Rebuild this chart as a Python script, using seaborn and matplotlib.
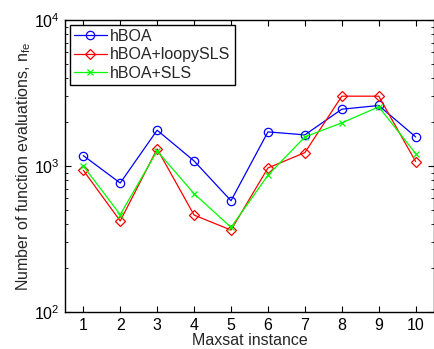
import matplotlib
matplotlib.use("Agg")
import matplotlib.pyplot as plt
import seaborn as sns
import pandas as pd
import numpy as np
from matplotlib.ticker import LogLocator, NullFormatter

instances = [1, 2, 3, 4, 5, 6, 7, 8, 9, 10]
hboa = [1178, 764, 1757, 1082, 578, 1711, 1632, 2446, 2594, 1581]
hboa_loopy = [934, 420, 1309, 461, 364, 969, 1234, 3004, 3004, 1071]
hboa_sls = [1000, 464, 1267, 646, 380, 863, 1581, 1972, 2539, 1215]
series_names = ["hBOA", "hBOA+loopySLS", "hBOA+SLS"]

sns.set_style("white")
plt.rcParams['font.family'] = ['Liberation Sans', 'DejaVu Sans']
plt.rcParams['mathtext.fontset'] = 'custom'
plt.rcParams['mathtext.rm'] = 'Liberation Sans'
plt.rcParams['mathtext.it'] = 'Liberation Sans'

fig = plt.figure(figsize=(4.35, 3.49), dpi=100)
ax = fig.add_axes([0.149, 0.106, 0.849, 0.837])

styles = [("blue", "o", 6), ("red", "D", 5), ("#00ff00", "x", 4)]
for name, vals, (c, m, ms) in zip(series_names, [hboa, hboa_loopy, hboa_sls], styles):
    df = pd.DataFrame({"x": instances, "y": vals})
    sns.lineplot(data=df, x="x", y="y", ax=ax, color=c, marker=m, markersize=ms,
                 mfc="none", mec=c, mew=0.9, lw=0.9, label=name)

ax.set_yscale("log")
ax.set_ylim(100, 10000)
ax.set_xlim(0.5, 10.5)
ax.set_xticks(instances)
ax.yaxis.set_minor_locator(LogLocator(base=10, subs=np.arange(2, 10)))
ax.yaxis.set_minor_formatter(NullFormatter())

for s in ax.spines.values():
    s.set_visible(True)
    s.set_color("black")
    s.set_linewidth(1.0)

ax.tick_params(which="both", direction="in", top=True, right=True, bottom=True, left=True, colors="black", labelsize=11.5)
ax.tick_params(which="major", length=4, width=0.8)
ax.tick_params(which="minor", length=2.5, width=0.6)
ax.tick_params(axis="x", pad=4)

ax.set_xlabel("Maxsat instance", fontsize=11.5, labelpad=0)
ax.set_ylabel(r"Number of function evaluations, n$_{\rm fe}$", fontsize=11.5, labelpad=1)

leg = ax.legend(loc="upper left", fontsize=11.5, frameon=True, fancybox=False,
                edgecolor="black", framealpha=1, handlelength=2.1, handletextpad=0.2,
                borderpad=0.25, labelspacing=0.22, borderaxespad=0.3)
leg.get_frame().set_linewidth(1.0)

fig.savefig("out.png", dpi=100)
